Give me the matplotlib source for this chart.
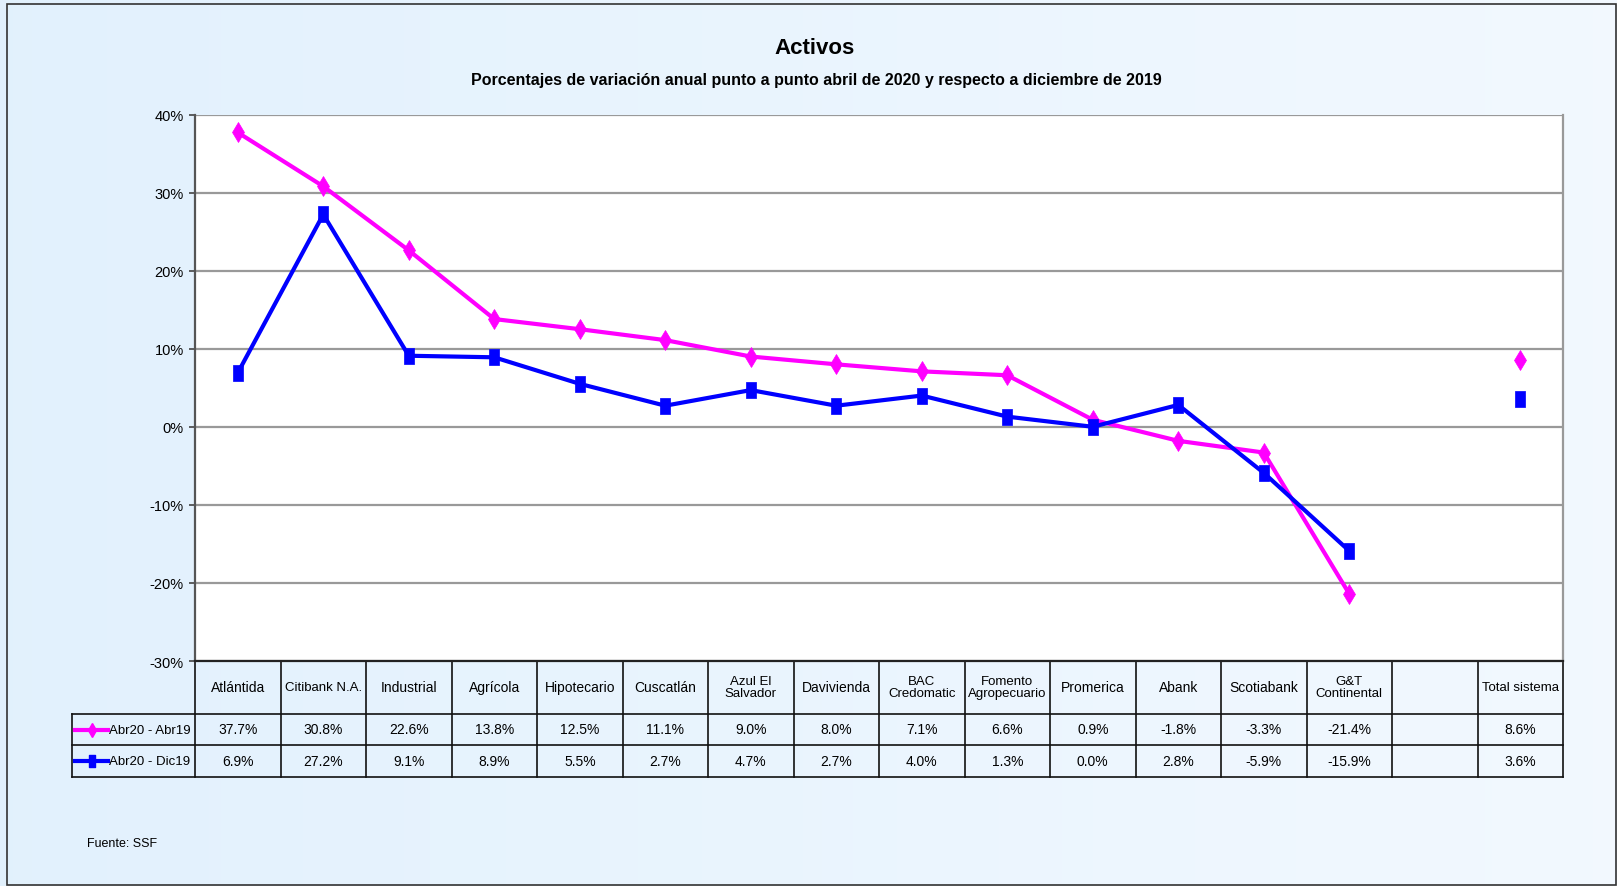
import matplotlib
matplotlib.use("Agg")
import matplotlib.pyplot as plt
import numpy as np
from matplotlib.path import Path
from matplotlib.patches import Rectangle

plt.rcParams['font.family'] = ['Liberation Sans', 'DejaVu Sans']

# ---------------- data ----------------
categories = ["Atlántida", "Citibank N.A.", "Industrial", "Agrícola", "Hipotecario",
              "Cuscatlán", "Azul El\nSalvador", "Davivienda", "BAC\nCredomatic",
              "Fomento\nAgropecuario", "Promerica", "Abank", "Scotiabank",
              "G&T\nContinental", "", "Total sistema"]
abr20_abr19 = [37.7, 30.8, 22.6, 13.8, 12.5, 11.1, 9.0, 8.0, 7.1, 6.6, 0.9, -1.8, -3.3, -21.4, None, 8.6]
abr20_dic19 = [6.9, 27.2, 9.1, 8.9, 5.5, 2.7, 4.7, 2.7, 4.0, 1.3, 0.0, 2.8, -5.9, -15.9, None, 3.6]
series_names = ["Abr20 - Abr19", "Abr20 - Dic19"]
yticks = [-30, -20, -10, 0, 10, 20, 30, 40]
title = "Activos"
subtitle = "Porcentajes de variación anual punto a punto abril de 2020 y respecto a diciembre de 2019"
source = "Fuente: SSF"

MAG = "#FF00FF"
BLUE = "#0000FF"

W, H = 1617, 887
fig = plt.figure(figsize=(W / 100, H / 100), dpi=100)

# background gradient
bg = fig.add_axes([0, 0, 1, 1], zorder=-10)
grad = np.linspace(0, 1, 256)[None, :]
c0 = np.array([0.886, 0.945, 0.992])
c1 = np.array([0.950, 0.975, 1.0])
img = c0[None, None, :] * (1 - grad[..., None]) + c1[None, None, :] * grad[..., None]
bg.imshow(img, aspect='auto', extent=[0, 1, 0, 1])
bg.set_xlim(0, 1); bg.set_ylim(0, 1)
bg.axis('off')
bg.add_patch(Rectangle((7 / W, 1 / H), (W - 8) / W, (H - 6) / H, fill=False,
                       edgecolor='#333333', lw=1.2, transform=bg.transAxes))

# plot axes
px_l, px_r, px_t, px_b = 195, 1563, 115.5, 662
ax = fig.add_axes([px_l / W, 1 - px_b / H, (px_r - px_l) / W, (px_b - px_t) / H])
ax.set_facecolor('white')
n = len(categories)
ax.set_xlim(-0.5, n - 0.5)
ax.set_ylim(-30, 40)
ax.set_yticks(yticks)
ax.set_yticklabels([f"{v}%" for v in yticks], fontsize=10.5)
ax.set_xticks([])
ax.yaxis.grid(True, color='#999999', lw=1.6)
ax.set_axisbelow(True)
ax.tick_params(axis='y', length=4, width=1.2, color='#444444', pad=4)
ax.spines['top'].set_visible(False)
ax.spines['right'].set_color('#999999'); ax.spines['right'].set_linewidth(1.6)
ax.spines['left'].set_color('#555555'); ax.spines['left'].set_linewidth(1.6)
ax.spines['bottom'].set_color('#222222'); ax.spines['bottom'].set_linewidth(1.6)

rect_marker = Path([(-0.31, -0.5), (0.31, -0.5), (0.31, 0.5), (-0.31, 0.5), (-0.31, -0.5)],
                   [Path.MOVETO, Path.LINETO, Path.LINETO, Path.LINETO, Path.CLOSEPOLY])

x = np.arange(n)
y1 = np.array([np.nan if v is None else v for v in abr20_abr19], dtype=float)
y2 = np.array([np.nan if v is None else v for v in abr20_dic19], dtype=float)
ax.plot(x, y1, color=MAG, lw=3, marker='d', markersize=10, markeredgewidth=0.5, zorder=3)
ax.plot(x, y2, color=BLUE, lw=3, marker=rect_marker, markersize=11, markeredgewidth=0.5, zorder=4)

# ---------------- data table ----------------
def ay(py):
    return (px_b - py) / (px_b - px_t)

def dx(px):
    return (px - px_l) / ((px_r - px_l) / n) - 0.5

tr = ax.get_xaxis_transform()
y_head_b = ay(714.7)
y_r1_b = ay(746)
y_r2_b = ay(777.5)
x_leg_l = dx(72)
lc = '#111111'
lw_t = 1.2
for yy in [y_head_b, y_r1_b, y_r2_b]:
    ax.plot([x_leg_l, n - 0.5], [yy, yy], color=lc, lw=lw_t, transform=tr, clip_on=False)
for i in range(n + 1):
    xb = i - 0.5
    ax.plot([xb, xb], [0, y_r2_b], color=lc, lw=lw_t, transform=tr, clip_on=False)
ax.plot([x_leg_l, x_leg_l], [y_head_b, y_r2_b], color=lc, lw=lw_t, transform=tr, clip_on=False)

fs_t = 10
y_head_c = ay(688)
y_r1_c = ay(730.5)
y_r2_c = ay(762)
for i, c in enumerate(categories):
    ax.text(i, y_head_c, c, transform=tr, ha='center', va='center', fontsize=fs_t if len(c) < 12 else 9.5,
            linespacing=1.05)
    if abr20_abr19[i] is not None:
        ax.text(i, y_r1_c, f"{abr20_abr19[i]:.1f}%", transform=tr, ha='center', va='center', fontsize=fs_t)
    if abr20_dic19[i] is not None:
        ax.text(i, y_r2_c, f"{abr20_dic19[i]:.1f}%", transform=tr, ha='center', va='center', fontsize=fs_t)

# legend keys inside table
for yc, col, mk, ms, name in [(y_r1_c, MAG, 'd', 7, series_names[0]),
                              (y_r2_c, BLUE, rect_marker, 8, series_names[1])]:
    ax.plot([dx(75), dx(108)], [yc, yc], color=col, lw=3, transform=tr, clip_on=False)
    ax.plot([(dx(75) + dx(108)) / 2], [yc], color=col, marker=mk, markersize=ms,
            transform=tr, clip_on=False)
    ax.text(dx(109), yc, name, transform=tr, ha='left', va='center', fontsize=9.5)

# titles
fig.text(815 / W, 1 - 49 / H, title, ha='center', va='center', fontsize=16, fontweight='bold')
fig.text(816 / W, 1 - 81 / H, subtitle, ha='center', va='center', fontsize=11.5, fontweight='bold')
fig.text(87 / W, 1 - 844 / H, source, ha='left', va='center', fontsize=9)

fig.savefig("out.png", dpi=100)
